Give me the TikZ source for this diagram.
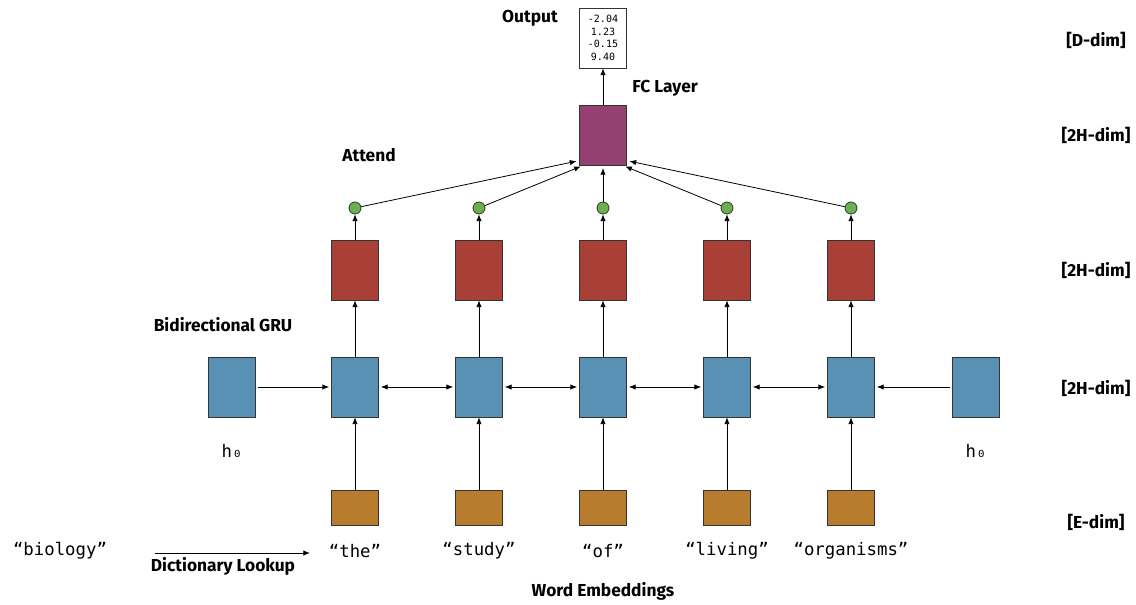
\documentclass[tikz,border=0pt]{standalone}
\usepackage{fontspec}
\setmainfont{Fira Sans}
\newfontfamily\wordfont{DejaVu Sans Mono}
\usetikzlibrary{arrows.meta,positioning}

\definecolor{gruBlue}{RGB}{88,145,180}
\definecolor{outRed}{RGB}{168,64,56}
\definecolor{fcPurple}{RGB}{148,64,112}
\definecolor{embOrange}{RGB}{184,124,46}
\definecolor{attGreen}{RGB}{106,176,78}

\begin{document}
\begin{tikzpicture}[x=0.75pt,y=0.75pt,yscale=-1,xscale=1,
    cell/.style={draw=black!80,line width=0.6pt,minimum width=35.25pt,minimum height=45pt,inner sep=0pt},
    embbox/.style={cell,fill=embOrange,minimum height=26.25pt},
    attdot/.style={circle,draw=black!80,line width=0.6pt,fill=attGreen,minimum size=9pt,inner sep=0pt},
    arr/.style={-{Latex[length=5pt,width=4pt]},line width=0.6pt},
    darr/.style={{Latex[length=5pt,width=4pt]}-{Latex[length=5pt,width=4pt]},line width=0.6pt,shorten <=1.5pt,shorten >=1.5pt},
    lbl/.style={font=\bfseries\fontsize{13}{15}\selectfont,inner sep=0.75pt},
    word/.style={font=\wordfont\fontsize{13}{15}\selectfont,inner sep=0.75pt}]
  \useasboundingbox (0,0) rectangle (1136,604);

  % initial hidden states
  \node[cell,fill=gruBlue] (h0l) at (232,387) {};
  \node[cell,fill=gruBlue] (h0r) at (976,387) {};
  \node[word] (h0lt) at (232,451) {h₀};
  \node[word] (h0rt) at (976,451) {h₀};

  % one column per word
  \foreach \i/\x/\w in {1/355/the,2/479/study,3/603/of,4/727/living,5/851/organisms} {
    \node[embbox] (e\i) at (\x,508) {};
    \node[cell,fill=gruBlue] (g\i) at (\x,387) {};
    \node[cell,fill=outRed] (r\i) at (\x,270) {};
    \node[attdot] (a\i) at (\x,208) {};
    \node[word] (w\i) at (\x,551) {“\w”};
    \draw[arr] (e\i) -- (g\i);
    \draw[arr] (g\i) -- (r\i);
    \draw[arr] (r\i) -- (a\i);
  }

  % recurrent links
  \draw[arr,shorten <=1.5pt,shorten >=1.5pt] (h0l) -- (g1);
  \foreach \i/\j in {1/2,2/3,3/4,4/5}
    \draw[darr] (g\i) -- (g\j);
  \draw[arr,shorten <=1.5pt,shorten >=1.5pt] (h0r) -- (g5);

  % attention and output
  \node[cell,fill=fcPurple] (fc) at (603,135) {};
  \node[cell,fill=white,align=center,font=\wordfont\fontsize{7.5}{9.5}\selectfont] (out) at (603,38) {-2.04\\1.23\\-0.15\\9.40};
  \draw[arr,shorten >=2pt] (a1) -- (fc.227);
  \draw[arr,shorten >=2pt] (a2) -- (fc.237);
  \draw[arr,shorten >=2pt] (a3) -- (fc.south);
  \draw[arr,shorten >=2pt] (a4) -- (fc.303);
  \draw[arr,shorten >=2pt] (a5) -- (fc.313);
  \draw[arr] (fc) -- (out);

  % dictionary lookup
  \node[word] (bio) at (60,551) {“biology”};
  \coordinate (lkA) at (155,553);
  \coordinate (lkB) at (310,553);
  \draw[arr] (lkA) -- (lkB);
  \node[lbl] (lk) at (223,566) {Dictionary Lookup};

  % text labels
  \node[lbl] (outl) at (530,18) {Output};
  \node[lbl] (fcl) at (665,88) {FC Layer};
  \node[lbl] (attl) at (369,155) {Attend};
  \node[lbl] (grul) at (223,325) {Bidirectional GRU};
  \node[lbl] (embl) at (603,591) {Word Embeddings};
  \node[lbl] (d1) at (1096,40) {[D-dim]};
  \node[lbl] (d2) at (1096,135) {[2H-dim]};
  \node[lbl] (d3) at (1096,270) {[2H-dim]};
  \node[lbl] (d4) at (1096,388) {[2H-dim]};
  \node[lbl] (d5) at (1096,522) {[E-dim]};
\end{tikzpicture}
\end{document}
